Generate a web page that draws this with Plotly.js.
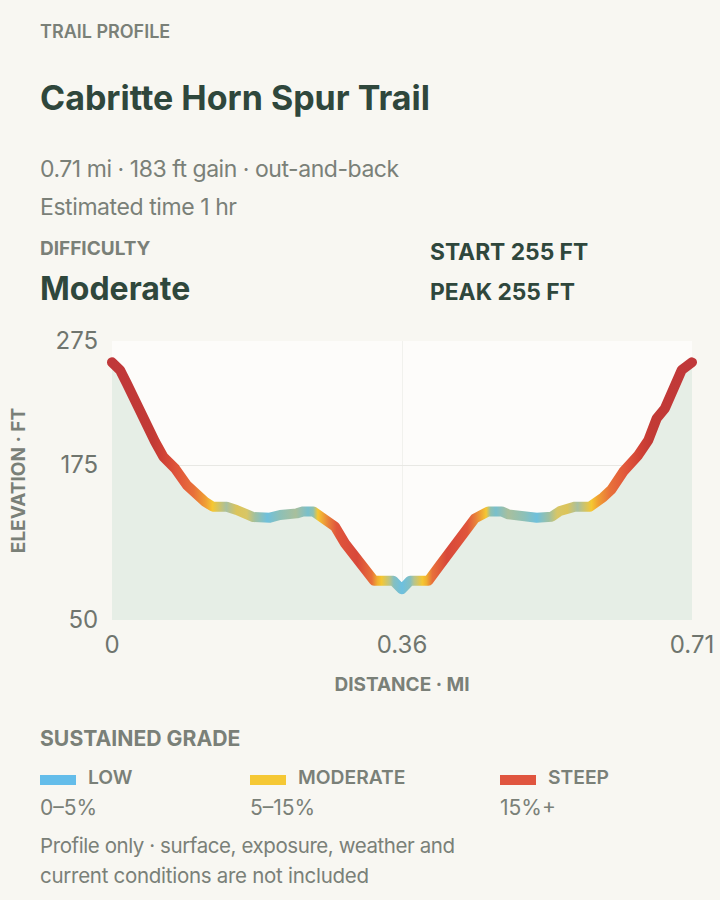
<!DOCTYPE html>
<html>
<head>
<meta charset="utf-8">
<script src="https://cdn.plot.ly/plotly-3.0.1.min.js"></script>
<style>
  html, body { margin: 0; padding: 0; background: #f8f7f2; }
  #plot { width: 720px; height: 900px; }
</style>
</head>
<body>
<div id="plot"></div>
<script>
  // elevation profile
  const distance = [0, .0098, .018, .0261, .0343, .0424, .0526, .0628, .0771, .0914, .1037, .1138, .1233, .1404, .1526, .1649, .173, .1934, .2057, .2261, .2342, .2464, .2587, .273, .2852, .2954, .3076, .3207, .3444, .3547,
    .3648, .3873, .4015, .4178, .4321, .4444, .4607, .477, .4852, .5035, .5199, .5383, .5484, .5668, .5851, .6014, .6116, .6259, .6443, .6565, .6668, .6769, .6871, .6974, .71];
  const elevation = [257.8, 251.6, 240.9, 228.8, 216.7, 208.6, 193.8, 181.7, 172.3, 158.9, 150.3, 145.4, 141.4, 141.4, 138.7, 136, 133, 132.5, 134.7, 136, 137.6, 137.6, 132.8, 125.3, 111.8, 103.8, 92.5, 81.7, 81.7, 74.7,
    81.7, 81.7, 94.4, 109, 124, 132, 137.6, 137.6, 135.2, 133.3, 132.5, 133.3, 137.9, 141.4, 141.4, 149, 155.4, 169.6, 183, 195, 212.6, 220.7, 238, 251.6, 257.8];

  // colour along the trail, first half only, the trail is out-and-back
  const stopDistance = [0, .05, .062, .08, .1, .115, .123, .14, .1526, .165, .175, .19, .205, .225, .24, .2464, .252, .265, .275, .3, .318, .325, .33, .34, .345, .355];
  const stopColor = ['#c0383a', '#c23a35', '#cf4035', '#e0553b', '#e8703a', '#f0a033', '#f5c732', '#a8c0a0', '#dcc45a', '#d8c666', '#a0c0a0', '#6fc0dc', '#8cc0b8', '#a9bf9c', '#78bfcc', '#8ec0b0', '#f5c732', '#e8803a', '#e0553b', '#d8483a', '#e8703a', '#f0b030', '#f5c732', '#b8c48a', '#85bfc0', '#6cc0e0'];

  const baseElevation = 50;  // bottom of the y axis, the shaded area stops here
  const yTicks = [50, 175, 275];
  const xTicks = [0, 0.355, 0.71];
  const xTickLabels = ['0', '0.36', '0.71'];

  const legendNames = ['LOW', 'MODERATE', 'STEEP'];
  const legendRanges = ['0–5%', '5–15%', '15%+'];
  const legendColors = ['#64bdea', '#f5c835', '#e0553f'];
  const legendLeft = [40, 250, 500];

  const FONT = 'Inter, "Noto Sans", sans-serif';
  const DARK = '#2f473c', MUTED = '#7a8078';
  const W = 720, H = 900;
  const margin = {l: 112, r: 28, t: 341, b: 280};

  // paper coordinates are measured on the plot area, these take page pixels
  const paperX = px => (px - margin.l) / (W - margin.l - margin.r);
  const paperY = py => (H - margin.b - py) / (H - margin.t - margin.b);

  let tracking = [];  // letter spacing per annotation, plotly has no option for it

  function label(text, x, y, size, color, weight, spacing) {
    tracking.push(spacing || 0);
    return {
      text: text, x: paperX(x - 1), y: paperY(y), xref: 'paper', yref: 'paper',
      xanchor: 'left', yanchor: 'middle', align: 'left', showarrow: false, borderpad: 0,
      font: {family: FONT, size: size, color: color, weight: weight || 400}
    };
  }

  let annotations = [
    label('TRAIL PROFILE', 40, 31, 18, MUTED, 600),
    label('Cabritte Horn Spur Trail', 40, 97, 34, DARK, 700),
    label('0.71 mi · 183 ft gain · out-and-back', 40, 169, 23, MUTED, 400, -0.46),
    label('Estimated time 1 hr', 40, 207, 23, MUTED, 400, -0.42),
    label('DIFFICULTY', 40, 248, 19, MUTED, 700),
    label('Moderate', 40, 288, 32, DARK, 700),
    label('START 255 FT', 430, 251, 22.8, DARK, 700),
    label('PEAK 255 FT', 430, 291, 22.8, DARK, 700),
    label('SUSTAINED GRADE', 40, 738, 21.2, MUTED, 700),
    label('Profile only · surface, exposure, weather and', 40, 845, 20.5, MUTED, 400, -0.42),
    label('current conditions are not included', 40, 875, 20.5, MUTED, 400, -0.28)
  ];
  let shapes = [];
  legendNames.forEach((name, i) => {
    annotations.push(label(name, legendLeft[i] + 48, 777, 19.3, MUTED, 600));
    annotations.push(label(legendRanges[i], legendLeft[i], 807, 21, MUTED));
    shapes.push({
      type: 'rect', xref: 'paper', yref: 'paper', line: {width: 0}, fillcolor: legendColors[i],
      x0: paperX(legendLeft[i]), x1: paperX(legendLeft[i] + 36), y0: paperY(785), y1: paperY(775)
    });
  });

  const traces = [
    {x: [distance[0], distance[distance.length - 1]], y: [baseElevation, baseElevation], type: 'scatter', mode: 'lines', line: {width: 0}, hoverinfo: 'skip'},
    {x: distance, y: elevation, type: 'scatter', mode: 'lines', line: {width: 0}, fill: 'tonexty', fillcolor: '#e6eee6', hoverinfo: 'skip'},
    {x: distance, y: elevation, type: 'scatter', mode: 'lines', cliponaxis: false, line: {color: '#e0553b', width: 10}}
  ];

  const layout = {
    width: W, height: H, showlegend: false,
    paper_bgcolor: '#f8f7f2', plot_bgcolor: '#fdfcfa',
    margin: {l: margin.l, r: margin.r, t: margin.t, b: margin.b, pad: 0},
    font: {family: FONT},
    annotations: annotations, shapes: shapes,
    xaxis: {
      range: [0, 0.71], tickmode: 'array', tickvals: xTicks, ticktext: xTickLabels,
      gridcolor: '#f1f1ed', zeroline: false, showline: false, ticks: 'outside', ticklen: 3, tickcolor: 'rgba(0,0,0,0)',
      tickfont: {family: FONT, size: 24, color: '#6f756e'},
      title: {text: 'DISTANCE · MI', standoff: 19, font: {family: FONT, size: 19, color: MUTED, weight: 700}}
    },
    yaxis: {
      range: [50, 275], tickmode: 'array', tickvals: yTicks,
      gridcolor: '#e8e8e4', zeroline: false, showline: false, ticks: 'outside', ticklen: 8, tickcolor: 'rgba(0,0,0,0)',
      tickfont: {family: FONT, size: 24, color: '#6f756e'},
      title: {text: 'ELEVATION · FT', standoff: 24, font: {family: FONT, size: 19, color: MUTED, weight: 700}}
    }
  };

  const gd = document.getElementById('plot');
  Plotly.newPlot(gd, traces, layout, {displayModeBar: false}).then(() => {
    // plotly has no gradient on a line, so hand the drawn path an svg gradient
    const NS = 'http://www.w3.org/2000/svg';
    const grad = document.createElementNS(NS, 'linearGradient');
    grad.setAttribute('id', 'gradeGradient');
    const maxD = distance[distance.length - 1];
    const addStop = (d, color) => {
      const s = document.createElementNS(NS, 'stop');
      s.setAttribute('offset', d / maxD);
      s.setAttribute('stop-color', color);
      grad.appendChild(s);
    };
    stopDistance.forEach((d, i) => addStop(d, stopColor[i]));
    for (let i = stopDistance.length - 2; i >= 0; i--) addStop(maxD - stopDistance[i], stopColor[i]);
    gd.querySelector('svg.main-svg defs').appendChild(grad);

    const path = gd.querySelector('.scatterlayer .trace:last-child .js-line');
    path.style.stroke = 'url(#gradeGradient)';
    path.style.strokeLinecap = 'round';
    path.style.strokeLinejoin = 'round';

    // round caps hang outside the plot area
    let el = path;
    while (el && el !== gd) {
      if (el.removeAttribute) el.removeAttribute('clip-path');
      if (el.style) el.style.clipPath = '';
      el = el.parentNode;
    }

    gd.querySelectorAll('.annotation-text').forEach((t, i) => {
      if (tracking[i]) t.style.letterSpacing = tracking[i] + 'px';
    });
  });
</script>
</body>
</html>
